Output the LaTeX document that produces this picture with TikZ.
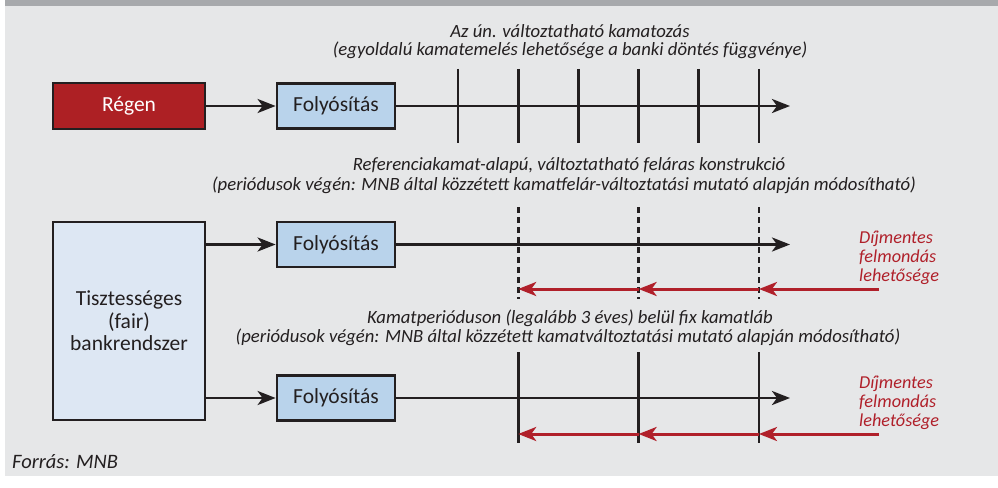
\documentclass[tikz,border=0pt]{standalone}
\usepackage{fontspec}
\setmainfont{Carlito}
\usetikzlibrary{arrows.meta}
\definecolor{bgc}{HTML}{E6E7E8}
\definecolor{barc}{HTML}{A7A9AC}
\definecolor{ink}{HTML}{231F20}
\definecolor{darkred}{HTML}{AD2024}
\definecolor{redtxt}{HTML}{B0202A}
\definecolor{boxblue}{HTML}{B9D3EB}
\definecolor{paleblue}{HTML}{DDE7F3}
\tikzset{
  box/.style={draw=ink, line width=2.8pt, inner sep=0pt, font=\fontsize{21.5}{22.5}\selectfont, text=ink, align=center},
  redbox/.style={box, fill=darkred, text=white, minimum width=152pt, minimum height=46pt},
  folybox/.style={box, fill=boxblue, minimum width=118pt, minimum height=45pt},
  fairbox/.style={box, fill=paleblue, minimum width=152pt, minimum height=198pt},
  caption/.style={font=\fontsize{18.7}{19}\selectfont\itshape, text=ink, inner sep=0pt},
  redlabel/.style={font=\fontsize{18.2}{19}\selectfont\itshape, text=redtxt, inner sep=0pt, align=left},
  conn/.style={draw=ink, line width=2.8pt, -{Stealth[length=18pt,width=14pt,inset=5pt]}},
  tick/.style={draw=ink, line width=2.8pt},
  dtick/.style={draw=ink, line width=2.6pt, dash pattern=on 6pt off 4pt},
  redarrow/.style={draw=redtxt, line width=3pt, -{Stealth[length=18pt,width=14pt,inset=5pt]}},
}
\begin{document}
\begin{tikzpicture}[x=1pt,y=-1pt]
\fill[white] (0,0) rectangle (998,487);
\fill[bgc] (5,0) rectangle (998,476);
\fill[barc] (5,0) rectangle (998,6);
\useasboundingbox (0,0) rectangle (998,487);

% captions
\node[caption] (c1a) at (570,31) {Az ún. változtatható kamatozás};
\node[caption] (c1b) at (570,50) {(egyoldalú kamatemelés lehetősége a banki döntés függvénye)};
\node[caption] (c2a) at (569,166) {Referenciakamat-alapú, változtatható feláras konstrukció};
\node[caption] (c2b) at (564,185) {(periódusok végén: MNB által közzétett kamatfelár-változtatási mutató alapján módosítható)};
\node[caption] (c3a) at (570,318) {Kamatperióduson (legalább 3 éves) belül fix kamatláb};
\node[caption] (c3b) at (568,337) {(periódusok végén: MNB által közzétett kamatváltoztatási mutató alapján módosítható)};

% boxes
\node[redbox] (regen) at (129,106) {Régen};
\node[folybox] (f1) at (336,106) {Folyósítás};
\node[fairbox] (fair) at (129,321) {Tisztességes\\(fair)\\bankrendszer};
\node[folybox] (f2) at (336,244.5) {Folyósítás};
\node[folybox] (f3) at (336,398) {Folyósítás};

% end points of timelines
\coordinate (e1) at (790,106);
\coordinate (e2) at (790,244.5);
\coordinate (e3) at (790,398);

% row 1 ticks
\foreach \x in {458,518.2,578.4,638.6,698.8,759}{
  \draw[tick] (\x,69) -- (\x,143);
}
% row 2 dashed ticks
\foreach \x in {518.2,638.6,759}{
  \draw[dtick] (\x,207) -- (\x,299);
}
% row 3 ticks
\foreach \x in {518.2,638.6,759}{
  \draw[tick] (\x,352) -- (\x,443);
}

% connectors
\draw[conn] (regen) -- (f1);
\draw[conn] (f1) -- (e1);
\draw[conn] (fair.east |- f2) -- (f2);
\draw[conn] (f2) -- (e2);
\draw[conn] (fair.east |- f3) -- (f3);
\draw[conn] (f3) -- (e3);

% red arrows row 2
\coordinate (r2s) at (879,289);
\coordinate (r2a) at (759,289);
\coordinate (r2b) at (638.6,289);
\coordinate (r2c) at (518.2,289);
\draw[redarrow] (r2s) -- (r2a);
\draw[redarrow] (r2a) -- (r2b);
\draw[redarrow] (r2b) -- (r2c);
% red arrows row 3
\coordinate (r3s) at (879,434);
\coordinate (r3a) at (759,434);
\coordinate (r3b) at (638.6,434);
\coordinate (r3c) at (518.2,434);
\draw[redarrow] (r3s) -- (r3a);
\draw[redarrow] (r3a) -- (r3b);
\draw[redarrow] (r3b) -- (r3c);

\node[redlabel, anchor=west] (l2) at (859,258) {Díjmentes\\felmondás\\lehetősége};
\node[redlabel, anchor=west] (l3) at (859,403) {Díjmentes\\felmondás\\lehetősége};

\node[caption, anchor=west, font=\fontsize{20.5}{21}\selectfont\itshape] (src) at (12,462) {Forrás: MNB};
\end{tikzpicture}
\end{document}
